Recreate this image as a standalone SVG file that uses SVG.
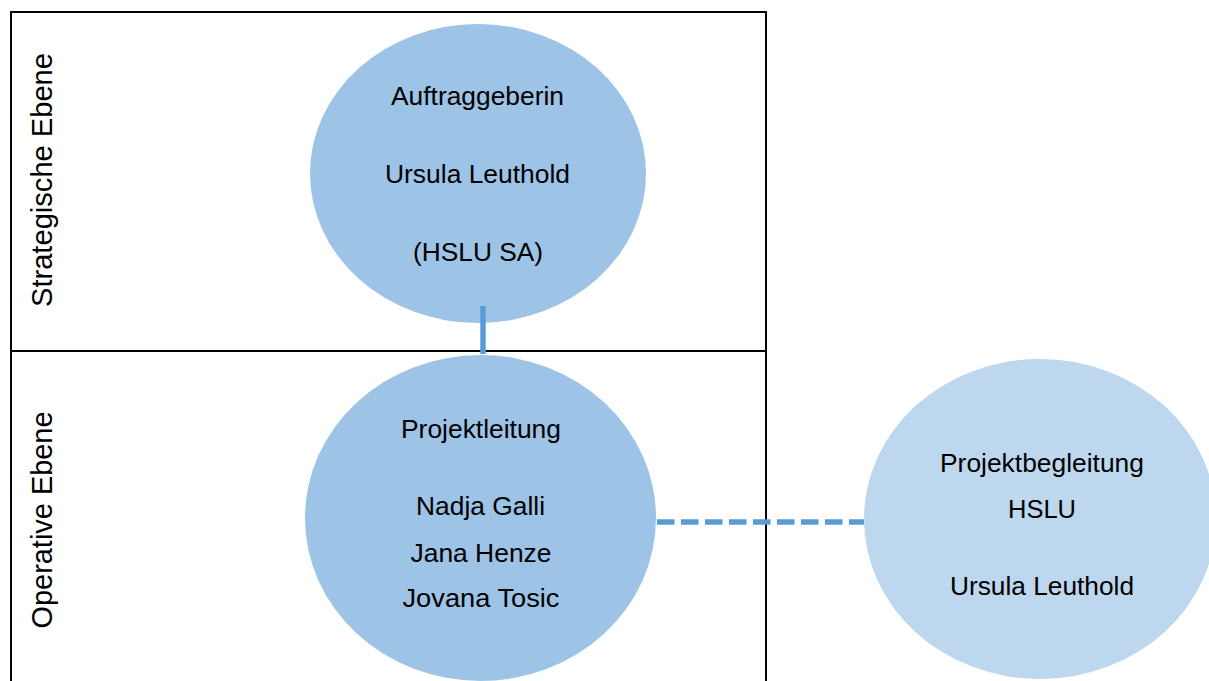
<svg xmlns="http://www.w3.org/2000/svg" width="1209" height="681" viewBox="0 0 1209 681">
<style>
.lbl{font-family:"Liberation Sans",Arial,sans-serif;font-size:25px;fill:#000;text-anchor:middle}
.side{font-family:"Liberation Sans",Arial,sans-serif;font-size:29px;fill:#000;text-anchor:middle}
.frame{fill:none;stroke:#000;stroke-width:2}
.conn{stroke:#5B9BD5;stroke-width:5.5;fill:none}
</style>
<rect width="1209" height="681" fill="#fff"/>
<g id="frame">
<path class="frame" d="M11 690 V12 H766 V690 M11 351 H766"/>
<text class="side" transform="translate(52,180) rotate(-90)" textLength="254" lengthAdjust="spacingAndGlyphs">Strategische Ebene</text>
<text class="side" transform="translate(52,520) rotate(-90)" textLength="217" lengthAdjust="spacingAndGlyphs">Operative Ebene</text>
</g>
<g id="auftraggeberin">
<ellipse cx="478" cy="173.5" rx="168" ry="149.5" fill="#9DC3E6"/>
<text class="lbl" x="477.5" y="105" textLength="173" lengthAdjust="spacingAndGlyphs">Auftraggeberin</text>
<text class="lbl" x="477.5" y="183" textLength="185" lengthAdjust="spacingAndGlyphs">Ursula Leuthold</text>
<text class="lbl" x="478" y="261" textLength="130" lengthAdjust="spacingAndGlyphs">(HSLU SA)</text>
</g>
<g id="projektleitung">
<ellipse cx="480.5" cy="518" rx="175.5" ry="163" fill="#9DC3E6"/>
<text class="lbl" x="481" y="438" textLength="160" lengthAdjust="spacingAndGlyphs">Projektleitung</text>
<text class="lbl" x="480.5" y="515" textLength="129" lengthAdjust="spacingAndGlyphs">Nadja Galli</text>
<text class="lbl" x="481" y="562" textLength="141" lengthAdjust="spacingAndGlyphs">Jana Henze</text>
<text class="lbl" x="481" y="607" textLength="157" lengthAdjust="spacingAndGlyphs">Jovana Tosic</text>
</g>
<g id="projektbegleitung">
<ellipse cx="1040" cy="519" rx="176" ry="160" fill="#BDD7EE"/>
<text class="lbl" x="1042" y="472" textLength="204" lengthAdjust="spacingAndGlyphs">Projektbegleitung</text>
<text class="lbl" x="1042" y="518" textLength="68" lengthAdjust="spacingAndGlyphs">HSLU</text>
<text class="lbl" x="1042" y="595" textLength="184" lengthAdjust="spacingAndGlyphs">Ursula Leuthold</text>
</g>
<g id="connectors">
<line class="conn" x1="483" y1="306" x2="483" y2="354"/>
<line class="conn" x1="657" y1="522" x2="864" y2="522" stroke-dasharray="17.5 6.5"/>
</g>
</svg>
